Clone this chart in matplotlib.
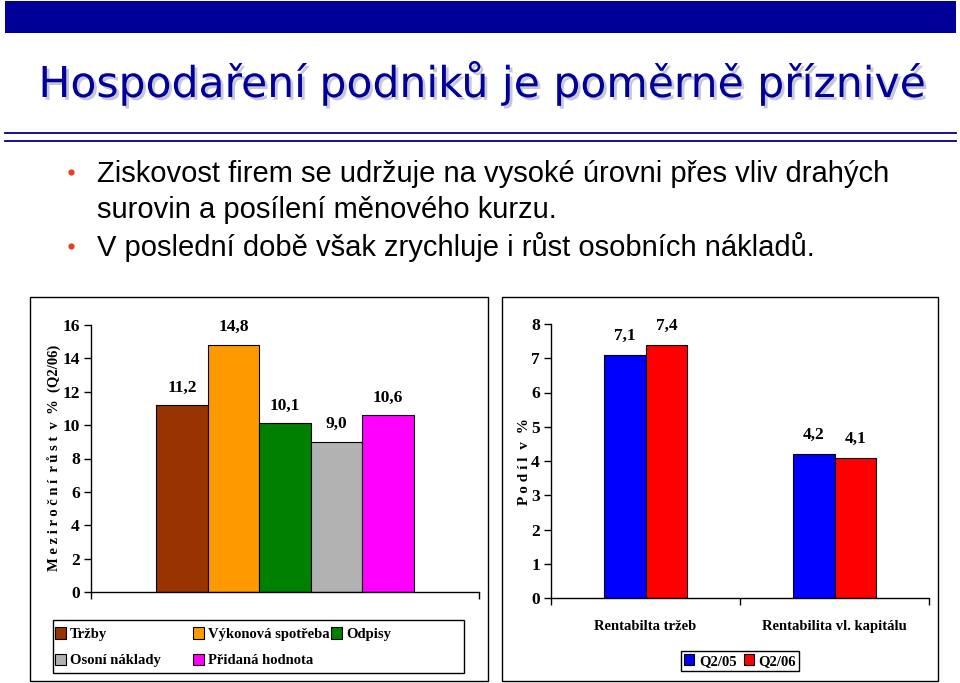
import numpy as np
import matplotlib.pyplot as plt
import matplotlib.patheffects as pe
from matplotlib.patches import Rectangle
from matplotlib.lines import Line2D

# Data for left chart
left_labels = ['Tržby', 'Výkonová spotřeba', 'Odpisy', 'Osoní náklady', 'Přidaná hodnota']
left_values = [11.2, 14.8, 10.1, 9.0, 10.6]
left_colors = ['#993300', '#FF9900', '#008000', '#B2B2B2', '#FF00FF']

# Data for right chart
right_categories = ['Rentabilta tržeb', 'Rentabilita vl. kapitálu']
q2_05 = [7.1, 4.2]
q2_06 = [7.4, 4.1]
right_series = ['Q2/05', 'Q2/06']
right_colors = ['#0000FF', '#FF0000']

title = 'Hospodaření podniků je poměrně příznivé'
bullet_lines = ['Ziskovost firem se udržuje na vysoké úrovni přes vliv drahých',
                'surovin a posílení měnového kurzu.',
                'V poslední době však zrychluje i růst osobních nákladů.']
bullet_start = [True, False, True]

W, H = 960, 683


def fx(x):
    return x / W


def fy(y):
    return 1 - y / H


serif = {'family': 'Liberation Serif', 'weight': 'bold'}
leg_font = {'family': 'Liberation Serif', 'weight': 'bold', 'size': 10.5}

fig = plt.figure(figsize=(9.6, 6.83), dpi=100)
fig.patch.set_facecolor('white')

# Header bar and double line
fig.add_artist(Rectangle((fx(5), fy(33)), fx(956 - 5), 32 / H, transform=fig.transFigure,
                         facecolor='#000099', edgecolor='none'))
for yy in (133, 141):
    fig.add_artist(Line2D([fx(5), fx(956)], [fy(yy), fy(yy)], transform=fig.transFigure,
                          color='#000080', lw=1.3))

# Title with drop shadow
fig.text(fx(483), fy(97), title, ha='center', va='baseline', fontsize=30.6,
         family='DejaVu Sans', color='#000099',
         path_effects=[pe.withSimplePatchShadow(offset=(2, -2), shadow_rgbFace='#9090B0', alpha=0.5)])

# Bullet text
for yb, txt, dot in zip((182, 218, 256), bullet_lines, bullet_start):
    if dot:
        fig.add_artist(Line2D([fx(71)], [fy(yb - 10)], transform=fig.transFigure, marker='o',
                              ms=4.5, color='#E8401C', mec='none'))
    fig.text(fx(97), fy(yb), txt, ha='left', va='baseline', fontsize=21,
             family='Liberation Sans', color='black')

# Chart boxes
for x0, x1 in ((30, 488), (502, 938)):
    fig.add_artist(Rectangle((fx(x0), fy(681)), fx(x1 - x0), (681 - 297) / H,
                             transform=fig.transFigure, fill=False, edgecolor='black', lw=1))


def style_axis(ax):
    ax.spines['top'].set_visible(False)
    ax.spines['right'].set_visible(False)
    for s in ('left', 'bottom'):
        ax.spines[s].set_linewidth(1)
    ax.tick_params(axis='y', direction='out', length=5, width=1, pad=3, labelsize=12.5)
    ax.tick_params(axis='x', which='major', direction='out', length=5, width=1, labelbottom=False)
    for lab in ax.get_yticklabels():
        lab.set_fontfamily('Liberation Serif')
        lab.set_fontweight('bold')


def fmt(v):
    return f'{v:.1f}'.replace('.', ',')


# Left chart
ax1 = fig.add_axes([fx(91), fy(592), fx(479 - 91), (592 - 325) / H])
bw = 0.1327
bars1 = []
for i, (v, c) in enumerate(zip(left_values, left_colors)):
    xi = 0.5 + (i - 2) * bw
    b = ax1.bar(xi, v, width=bw, color=c, edgecolor='black', lw=0.8)
    bars1.append(b[0])
    ax1.annotate(fmt(v), (xi, v), xytext=(0, 7), textcoords='offset points',
                 ha='center', va='bottom', fontsize=12.5, **serif)
ax1.set_xlim(0, 1)
ax1.set_ylim(0, 16)
ax1.set_yticks(np.arange(0, 17, 2))
ax1.set_xticks([0, 1])
style_axis(ax1)
fig.text(fx(55), fy(458), 'M e z i r o č n í  r ů s t  v  %  (Q2/06)', rotation=90,
         ha='center', va='center', fontsize=10.5, **serif)

# Left legend: frame drawn separately, one legend per column
fig.add_artist(Rectangle((fx(53), fy(673)), fx(464 - 53), (673 - 620) / H,
                         transform=fig.transFigure, fill=False, edgecolor='black', lw=1))
for col_x, idx in ((54, [0, 3]), (192, [1, 4]), (330, [2])):
    fig.legend([bars1[i] for i in idx], [left_labels[i] for i in idx], loc='upper left',
               bbox_to_anchor=(fx(col_x), fy(626)), borderaxespad=0, frameon=False,
               prop=leg_font, handlelength=0.7, handleheight=0.8, handletextpad=0.3,
               labelspacing=0.85, borderpad=0.1)

# Right chart
ax2 = fig.add_axes([fx(551), fy(598), fx(929 - 551), (598 - 324) / H])
bw2 = 0.222
x = np.arange(len(right_categories)) + 0.5
bars2 = []
for j, (vals, c) in enumerate(zip([q2_05, q2_06], right_colors)):
    xs = x + (j - 0.5) * bw2
    b = ax2.bar(xs, vals, width=bw2, color=c, edgecolor='black', lw=0.8)
    bars2.append(b[0])
    for xi, v in zip(xs, vals):
        ax2.annotate(fmt(v), (xi, v), xytext=(0, 8), textcoords='offset points',
                     ha='center', va='bottom', fontsize=12.5, **serif)
ax2.set_xlim(0, 2)
ax2.set_ylim(0, 8)
ax2.set_yticks(np.arange(0, 9, 1))
ax2.set_xticks([0, 1, 2])
ax2.set_xticks(x, minor=True)
ax2.set_xticklabels(right_categories, minor=True)
style_axis(ax2)
ax2.tick_params(axis='x', which='minor', length=0, pad=16, labelsize=10.5)
for lab in ax2.get_xticklabels(minor=True):
    lab.set_fontfamily('Liberation Serif')
    lab.set_fontweight('bold')
fig.text(fx(525), fy(462), 'P o d í l  v  %', rotation=90,
         ha='center', va='center', fontsize=11, **serif)

leg2 = fig.legend(bars2, right_series, ncol=2, loc='center',
                  bbox_to_anchor=(fx(740), fy(661)), borderaxespad=0, fancybox=False,
                  edgecolor='black', framealpha=1, prop=leg_font,
                  handlelength=0.7, handleheight=0.8, handletextpad=0.3, borderpad=0.25,
                  columnspacing=0.5)
leg2.get_frame().set_linewidth(1)

fig.savefig('out.png', dpi=100)
